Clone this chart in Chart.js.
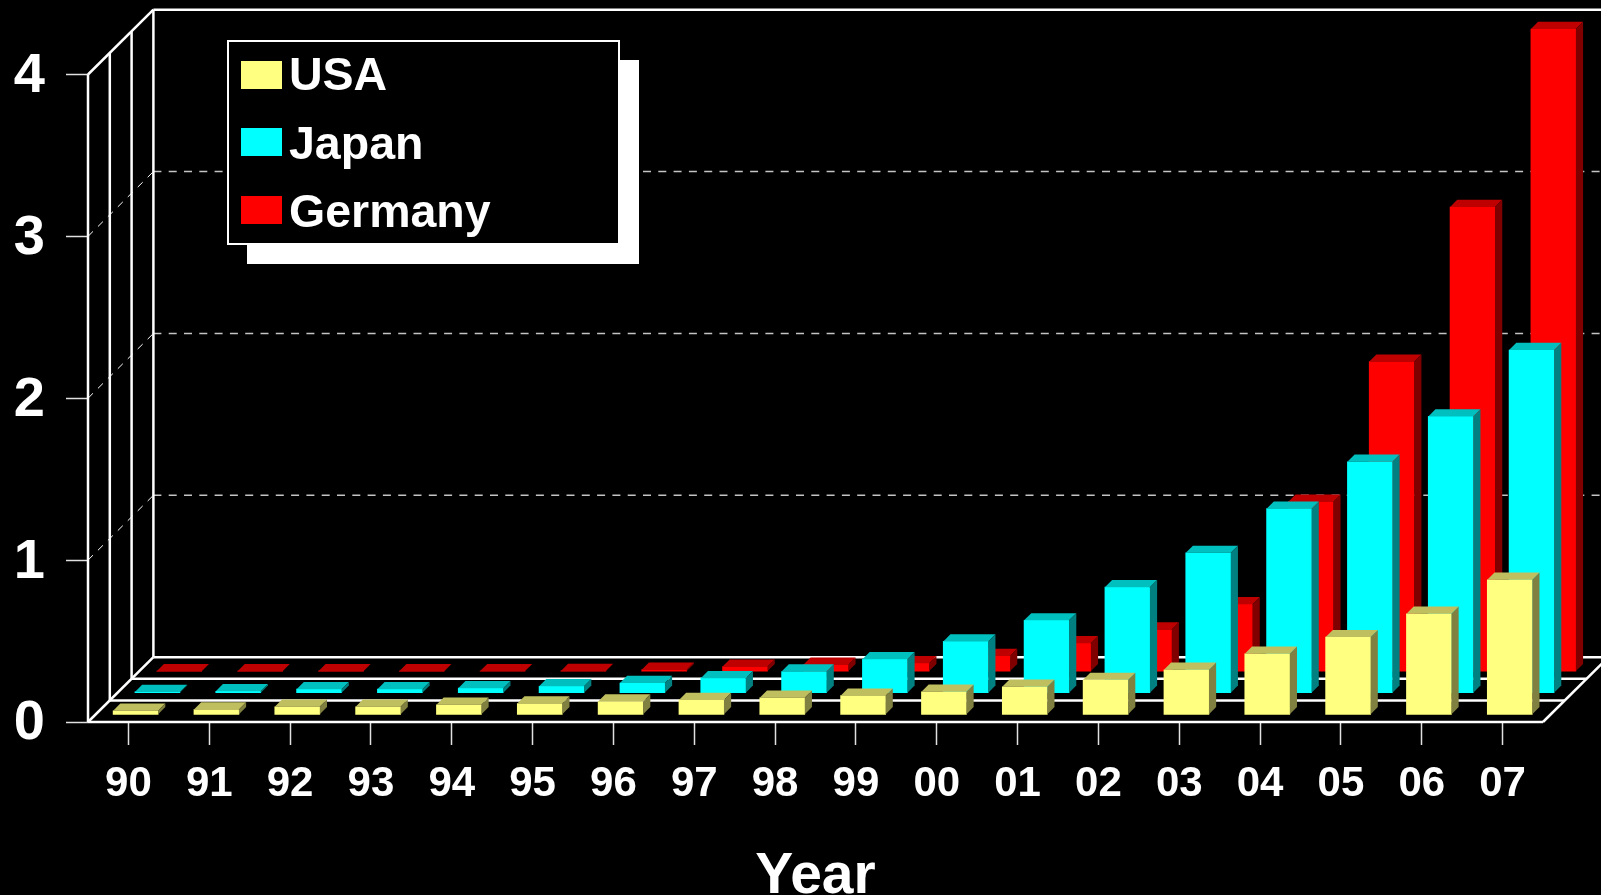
<!DOCTYPE html>
<html>
<head>
<meta charset="utf-8">
<title>Year chart</title>
<script src="https://cdn.jsdelivr.net/npm/chart.js@4"></script>
<style>
html, body { margin: 0; background: #000; overflow: hidden; }
#wrap { position: relative; width: 1601px; height: 895px; }
#chart { display: block; }
#legend {
    position: absolute; left: 227px; top: 40px; width: 389px; height: 201px;
    border: 2px solid #fff; background: #000; box-shadow: 19.5px 19.5px 0 -0.5px #fff;
}
.row { position: absolute; left: 12px; height: 52px; }
.swatch { position: absolute; left: 0; top: 0; width: 41px; height: 28px; }
.name {
    position: absolute; left: 48px; color: #fff; white-space: nowrap;
    font: bold 46.5px/52px "Liberation Sans", Arial, sans-serif;
}
</style>
</head>
<body>
<div id="wrap">
    <canvas id="chart" width="1601" height="895"></canvas>
    <div id="legend"></div>
</div>
<script>
const categories = ['90', '91', '92', '93', '94', '95', '96', '97', '98', '99', '00', '01', '02', '03', '04', '05', '06', '07'];
const usaValues = [0.025, 0.033, 0.05, 0.05, 0.062, 0.07, 0.082, 0.092, 0.105, 0.118, 0.142, 0.173, 0.216, 0.278, 0.377, 0.48, 0.624, 0.834];
const japanValues = [0.008, 0.012, 0.025, 0.025, 0.031, 0.043, 0.063, 0.093, 0.134, 0.21, 0.32, 0.45, 0.655, 0.867, 1.14, 1.43, 1.71, 2.12];
const germanyValues = [0.002, 0.002, 0.002, 0.002, 0.003, 0.004, 0.012, 0.031, 0.043, 0.052, 0.097, 0.175, 0.26, 0.416, 1.05, 1.915, 2.87, 3.97];

const FONT = '"Liberation Sans", Arial, sans-serif';

// depth of one series row, and the bar depth inside it
const ROW_DX = 21.8, ROW_DY = 21.6, BAR_DEPTH = 7.2;
const ROWS = 3;

const palette = [
    { front: '#ffff80', top: '#bfbf60', side: '#808040' },
    { front: '#00ffff', top: '#00bfbf', side: '#008080' },
    { front: '#ff0000', top: '#bf0000', side: '#800000' }
];

function line(ctx, x1, y1, x2, y2) {
    ctx.beginPath();
    ctx.moveTo(x1, y1);
    ctx.lineTo(x2, y2);
    ctx.stroke();
}

function poly(ctx, pts, color) {
    ctx.fillStyle = color;
    ctx.beginPath();
    pts.forEach((p, i) => i ? ctx.lineTo(p[0], p[1]) : ctx.moveTo(p[0], p[1]));
    ctx.closePath();
    ctx.fill();
}

// back walls, floor rows and dashed grid
const framePlugin = {
    id: 'frame',
    beforeDatasetsDraw(chart) {
        const ctx = chart.ctx, y = chart.scales.y;
        const { left, right } = chart.chartArea;
        const floor = y.getPixelForValue(0), ceil = y.getPixelForValue(4);
        const backDx = ROW_DX * ROWS, backDy = ROW_DY * ROWS;
        ctx.save();

        ctx.strokeStyle = '#c4c4c4';
        ctx.lineWidth = 1.5;
        ctx.setLineDash([8, 7.3]);
        [1, 2, 3].forEach(v => {
            const py = y.getPixelForValue(v) - backDy;
            line(ctx, left + backDx, py, chart.width, py);
        });
        ctx.strokeStyle = '#ffffff';
        ctx.lineWidth = 1;
        ctx.setLineDash([7, 7]);
        [1, 2, 3].forEach(v => {
            const py = y.getPixelForValue(v);
            line(ctx, left, py, left + backDx, py - backDy);
        });
        ctx.setLineDash([]);

        ctx.strokeStyle = '#ffffff';
        ctx.lineWidth = 2.5;
        for (let i = 0; i <= ROWS; i++) {
            const dx = ROW_DX * i, dy = ROW_DY * i;
            line(ctx, left + dx, floor - dy, right + dx, floor - dy);
            line(ctx, left + dx, floor - dy, left + dx, ceil - dy);
        }
        line(ctx, left, floor, left + backDx, floor - backDy);
        line(ctx, right, floor, right + backDx, floor - backDy);
        line(ctx, left, ceil, left + backDx, ceil - backDy);
        line(ctx, left + backDx, ceil - backDy, chart.width, ceil - backDy);
        ctx.restore();
    }
};

// pushes each series back to its row and adds the top and side faces
const depthPlugin = {
    id: 'depth',
    beforeDatasetDraw(chart, args) {
        const i = args.index;
        chart.ctx.save();
        chart.ctx.translate(BAR_DEPTH + ROW_DX * i, -(BAR_DEPTH + ROW_DY * i));
    },
    afterDatasetDraw(chart, args) {
        const ctx = chart.ctx, colors = palette[args.index];
        args.meta.data.forEach(bar => {
            const l = bar.x - bar.width / 2, r = bar.x + bar.width / 2;
            const t = bar.y, b = bar.base;
            poly(ctx, [[l, t], [r, t], [r + BAR_DEPTH, t - BAR_DEPTH], [l + BAR_DEPTH, t - BAR_DEPTH]], colors.top);
            poly(ctx, [[r, t], [r + BAR_DEPTH, t - BAR_DEPTH], [r + BAR_DEPTH, b - BAR_DEPTH], [r, b]], colors.side);
        });
        ctx.restore();
    }
};

const seriesNames = ['USA', 'Japan', 'Germany'];
const seriesValues = [usaValues, japanValues, germanyValues];

const chart = new Chart(document.getElementById('chart'), {
    type: 'bar',
    data: {
        labels: categories,
        datasets: seriesNames.map((name, i) => ({
            label: name,
            data: seriesValues[i],
            backgroundColor: palette[i].front,
            borderWidth: 0,
            barThickness: 45,
            grouped: false,
            clip: false
        }))
    },
    plugins: [framePlugin, depthPlugin],
    options: {
        responsive: false,
        animation: false,
        devicePixelRatio: 1,
        layout: { padding: { top: 74.5, right: 58, left: 0, bottom: 0 } },
        plugins: { legend: { display: false }, tooltip: { enabled: false } },
        scales: {
            x: {
                offset: true,
                afterFit(scale) { scale.height = 173; },
                border: { display: false },
                grid: { offset: false, drawOnChartArea: false, tickLength: 23, tickColor: '#e0e0e0', tickWidth: 1.5 },
                ticks: { color: '#fff', font: { family: FONT, weight: 'bold', size: 42 }, padding: 14, maxRotation: 0, autoSkip: false },
                title: { display: true, text: 'Year', color: '#fff', font: { family: FONT, weight: 'bold', size: 57 }, padding: { top: 0, bottom: -16 } }
            },
            y: {
                min: 0,
                max: 4,
                afterFit(scale) { scale.width = 88; },
                border: { display: false },
                grid: { drawOnChartArea: false, tickLength: 22, tickColor: '#e0e0e0', tickWidth: 1.5 },
                ticks: {
                    stepSize: 1,
                    color: '#fff',
                    // empty first line nudges the digit down to sit level with the tick
                    callback: v => ['', String(v)],
                    font: { family: FONT, weight: 'bold', size: 56, lineHeight: '4px' },
                    padding: 21
                }
            }
        }
    }
});

// html legend from the chart's own datasets
const legendRowTops = [19, 86, 154];
const legendTextTops = [-13, -11, -11];
document.getElementById('legend').innerHTML = chart.data.datasets.map((d, i) => `
    <div class="row" style="top: ${legendRowTops[i]}px;">
        <div class="swatch" style="background: ${d.backgroundColor};"></div>
        <div class="name" style="top: ${legendTextTops[i]}px;">${d.label}</div>
    </div>
`).join('');
</script>
</body>
</html>
